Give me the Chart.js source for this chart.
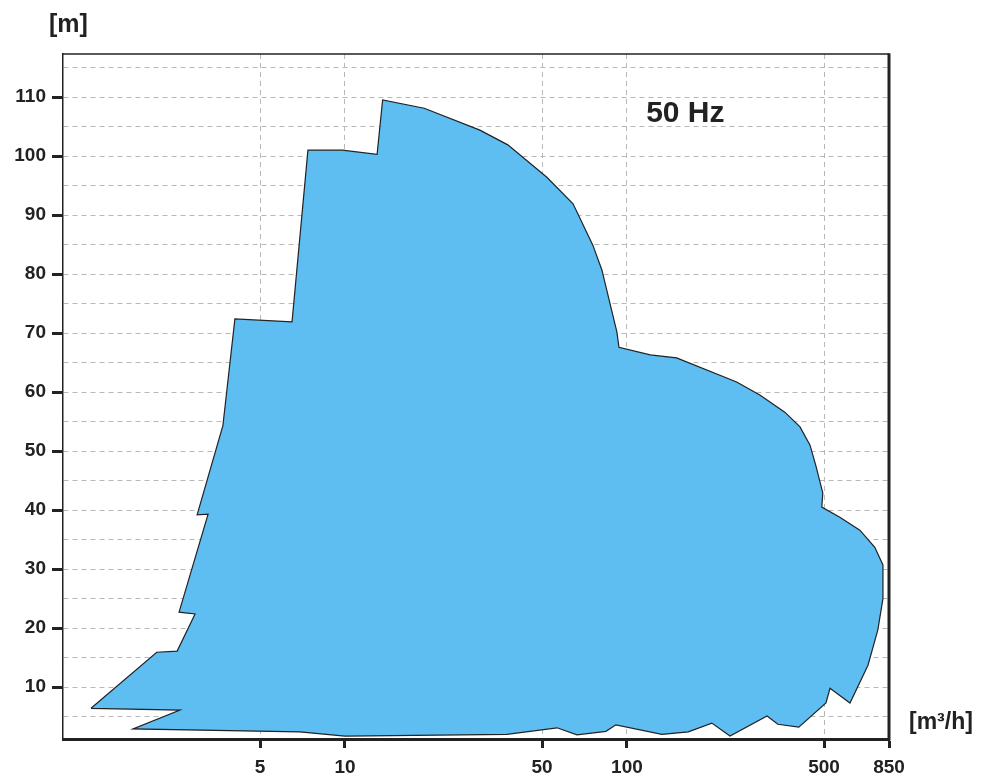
<!DOCTYPE html>
<html>
<head>
<meta charset="utf-8">
<script src="https://cdn.jsdelivr.net/npm/chart.js@4/dist/chart.umd.min.js"></script>
<style>
  html, body { margin: 0; padding: 0; background: #fff; }
  #wrap { width: 985px; height: 783px; position: relative; }
</style>
</head>
<body>
<div id="wrap"><canvas id="range-chart"></canvas></div>
<script>
// pump operating range, 50 Hz - outline (clockwise)
const flowRate = [
  1.257, 2.15, 2.54, 2.94, 2.58, 3.27, 2.99, 3.69, 4.07, 6.49,
  7.39, 9.78, 13.0, 13.6, 19.1, 30.1, 37.8, 52.0, 64.4, 75.7,
  81.5, 92.1, 93.7, 121, 150, 245, 296, 363, 411, 446,
  468, 495, 491, 569, 670, 757, 809, 809, 776, 716,
  618, 525, 508, 407, 343, 314, 232, 200, 165, 133,
  91.4, 84.2, 66.5, 56.5, 37.5, 10.0, 6.92, 1.77, 2.60, 1.257
];
const head = [
  6.4, 15.9, 16.1, 22.4, 22.7, 39.3, 39.2, 54.3, 72.4, 71.9,
  101.0, 101.0, 100.3, 109.5, 108.1, 104.4, 101.9, 96.4, 91.9, 84.9,
  80.7, 70.2, 67.6, 66.3, 65.8, 61.7, 59.5, 56.6, 54.1, 51.0,
  47.5, 42.9, 40.5, 38.8, 36.6, 33.7, 30.7, 25.0, 19.7, 13.7,
  7.3, 9.8, 7.3, 3.2, 3.7, 5.1, 1.7, 3.9, 2.4, 2.0,
  3.6, 2.5, 1.9, 3.1, 2.0, 1.7, 2.4, 2.9, 6.1, 6.4
];
const xTicks = [5, 10, 50, 100, 500, 850];
const yStep = 5;

const outline = flowRate.map((q, i) => ({ x: q, y: head[i] }));

const labelsPlugin = {
  id: "labels",
  afterDraw(chart) {
    const { ctx, chartArea, scales } = chart;
    ctx.save();
    ctx.fillStyle = "#222";
    ctx.strokeStyle = "#222";
    // top and right frame lines
    ctx.lineWidth = 1.5;
    ctx.beginPath();
    ctx.moveTo(chartArea.left, chartArea.top);
    ctx.lineTo(chartArea.right, chartArea.top);
    ctx.stroke();
    ctx.lineWidth = 3;
    ctx.beginPath();
    ctx.moveTo(chartArea.right, chartArea.top - 0.75);
    ctx.lineTo(chartArea.right, chartArea.bottom + 1.5);
    ctx.stroke();

    ctx.textBaseline = "alphabetic";
    ctx.textAlign = "left";
    ctx.font = "bold 30px 'Liberation Sans', Arial, sans-serif";
    ctx.fillText("50 Hz", scales.x.getPixelForValue(117), scales.y.getPixelForValue(105.8));

    ctx.font = "bold 25px 'Liberation Sans', Arial, sans-serif";
    ctx.fillText("[m]", 49, 32);
    ctx.font = "bold 23px 'Liberation Sans', Arial, sans-serif";
    ctx.fillText("[m\u00b3/h]", 909, 729);
    ctx.restore();
  },
};

const tickFont = { family: "'Liberation Sans', Arial, sans-serif", size: 19, weight: "bold" };

new Chart(document.getElementById("range-chart").getContext("2d"), {
  type: "scatter",
  data: {
    datasets: [
      {
        label: "50 Hz",
        data: outline,
        showLine: true,
        fill: "shape",
        backgroundColor: "#5ebef2",
        borderColor: "#222",
        borderWidth: 1.2,
        pointRadius: 0,
        tension: 0,
      },
    ],
  },
  options: {
    responsive: true,
    maintainAspectRatio: false,
    animation: false,
    layout: { padding: { top: 54, right: 96, left: 0, bottom: 0 } },
    plugins: {
      legend: { display: false },
      tooltip: { enabled: false },
    },
    scales: {
      x: {
        type: "logarithmic",
        min: 1,
        max: 850,
        afterBuildTicks(scale) {
          scale.ticks = xTicks.map((v) => ({ value: v }));
        },
        afterFit(scale) {
          scale.height = 44;
        },
        ticks: {
          autoSkip: false,
          maxRotation: 0,
          padding: 8,
          color: "#222",
          font: tickFont,
          callback: (v) => String(v),
        },
        grid: {
          color: (c) => (c.tick && c.tick.value === 850 ? "transparent" : "#b8b8b8"),
          lineWidth: 1,
          tickColor: "#222",
          tickWidth: 3,
          tickLength: 9,
          tickBorderDash: [],
        },
        border: { color: "#222", width: 3, dash: [5, 4] },
      },
      y: {
        min: 1.2,
        max: 117.3,
        afterFit(scale) {
          scale.width = 63;
        },
        ticks: {
          stepSize: yStep,
          includeBounds: false,
          autoSkip: false,
          padding: 6,
          color: "#222",
          font: tickFont,
          callback: (v) => (v % 10 === 0 ? String(v) : ""),
        },
        grid: {
          color: "#b8b8b8",
          lineWidth: 1,
          tickColor: (c) => (c.tick && c.tick.value % 10 === 0 ? "#222" : "transparent"),
          tickWidth: 3,
          tickLength: 11,
          tickBorderDash: [],
        },
        border: { color: "#222", width: 1.5, dash: [5, 4] },
      },
    },
  },
  plugins: [labelsPlugin],
});
</script>
</body>
</html>
